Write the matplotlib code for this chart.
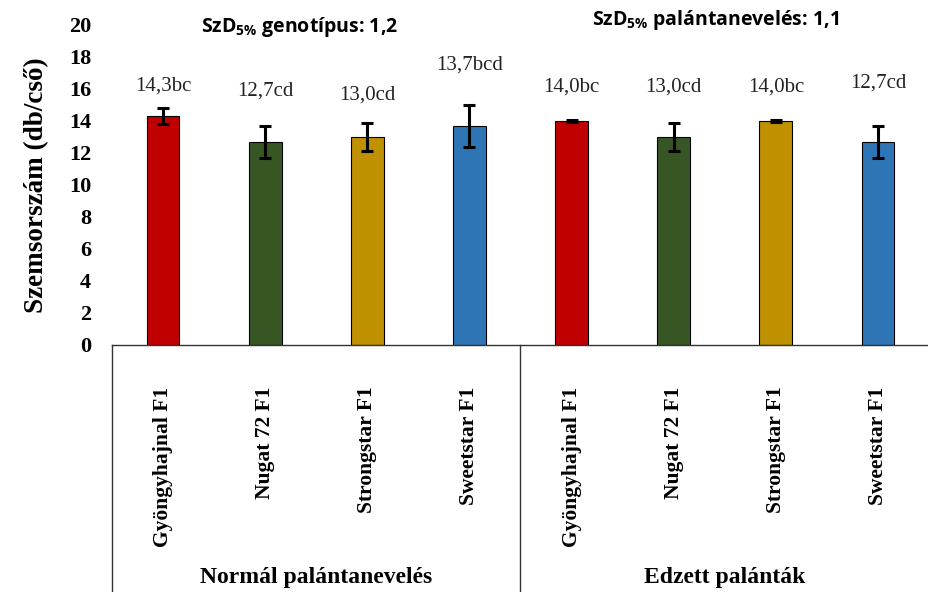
import matplotlib
matplotlib.use("Agg")
import matplotlib.pyplot as plt
import numpy as np

# Adatok (leolvasva a diagramrol)
genotypes = ["Gyöngyhajnal F1", "Nugat 72 F1", "Strongstar F1", "Sweetstar F1"]
groups = ["Normál palántanevelés", "Edzett palánták"]
values = [14.3, 12.7, 13.0, 13.7, 14.0, 13.0, 14.0, 12.7]
errors = [0.5, 1.0, 0.9, 1.3, 0.05, 0.9, 0.05, 1.0]
value_labels = ["14,3bc", "12,7cd", "13,0cd", "13,7bcd",
                "14,0bc", "13,0cd", "14,0bc", "12,7cd"]
label_heights = [16.2, 15.9, 15.6, 17.5, 16.1, 16.1, 16.1, 16.4]
bar_colors = ["#C00000", "#375623", "#BF9000", "#2E75B6"]
yticks = [0, 2, 4, 6, 8, 10, 12, 14, 16, 18, 20]
lsd_texts = ["SzD$_{5\\%}$ genotípus: 1,2", "SzD$_{5\\%}$ palántanevelés: 1,1"]

plt.rcParams["mathtext.default"] = "regular"
serif = "Liberation Serif"
sans = "Open Sans"

fig = plt.figure(figsize=(9.29, 5.92), dpi=100)
ax = fig.add_axes([112 / 929, 1 - 345 / 592, 1 - 112 / 929, 320 / 592])

x = np.arange(len(values))
colors = bar_colors * len(groups)
ax.bar(x, values, width=0.32, color=colors, edgecolor="black", linewidth=0.8,
       yerr=errors, capsize=4,
       error_kw=dict(ecolor="black", elinewidth=2.2, capthick=2.2))

for xi, lbl, h in zip(x, value_labels, label_heights):
    ax.text(xi, h, lbl, ha="center", va="center", fontsize=15,
            family=serif, color="#222222")

ax.set_xlim(-0.5, len(values) - 0.5)
ax.set_ylim(0, 20)
ax.set_yticks(yticks)
ax.set_yticklabels([str(t) for t in yticks], fontsize=16, fontweight="bold",
                   family=serif)
ax.tick_params(axis="y", length=0, pad=15)

ax.set_xticks(x)
ax.set_xticklabels(genotypes * len(groups), rotation=90, fontsize=15.5,
                   fontweight="bold", family=serif)
ax.tick_params(axis="x", length=0, pad=30)

for s in ["left", "top", "right"]:
    ax.spines[s].set_visible(False)
ax.spines["bottom"].set_linewidth(1.0)
ax.spines["bottom"].set_color("#333333")

ax.set_ylabel("Szemsorszám (db/cső)", fontsize=19.5, fontweight="bold",
              family=serif, labelpad=14)

# csoport elvalasztok es feliratok az x tengely alatt
trans = ax.get_xaxis_transform()
for xs in [-0.5, 3.5]:
    ax.plot([xs, xs], [0, -0.8], transform=trans, color="#333333", lw=1.0,
            clip_on=False)
for gi, g in enumerate(groups):
    ax.text(gi * 4 + 1.5, -0.725, g, transform=trans, ha="center", va="center",
            fontsize=17, fontweight="bold", family=serif)

# SzD feliratok
fig.text(300 / 929, 1 - 27 / 592, lsd_texts[0], ha="center", va="center",
         fontsize=14, fontweight="bold", family=sans)
fig.text(716 / 929, 1 - 20 / 592, lsd_texts[1], ha="center", va="center",
         fontsize=14, fontweight="bold", family=sans)

fig.savefig("out.png", dpi=100, facecolor="white")
